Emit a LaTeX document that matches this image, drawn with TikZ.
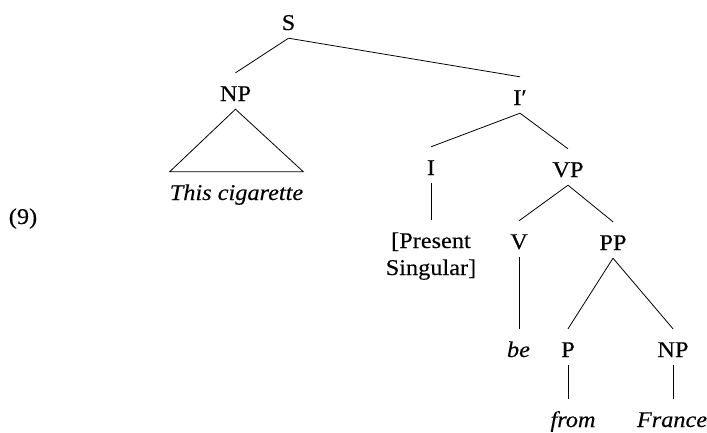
\documentclass[tikz,border=0pt]{standalone}
\usepackage{fontspec}
\setmainfont{Liberation Serif}[FakeStretch=1.08,FakeBold=0.2]
\begin{document}
\begin{tikzpicture}[x=1pt,y=-1pt,
  every node/.style={inner sep=0pt, font=\fontsize{22.5}{27}\selectfont},
  cat/.style={text height=28pt, text depth=8pt, anchor=base},
  leaf/.style={text height=28pt, text depth=6pt, anchor=base,
               font=\fontsize{22.5}{27}\selectfont\itshape},
  plainleaf/.style={text height=28pt, text depth=6pt, anchor=base},
  branch/.style={line width=0.8pt}]
\useasboundingbox (0,0) rectangle (707,432);

% example number
\node[anchor=base] (num) at (23,224) {(9)};

% category labels
\node[cat] (S)   at (288.5,30)  {S};
\node[cat] (NP1) at (235.5,101) {NP};
\node[cat] (Ib)  at (520,105)   {I′};
\node[cat] (I)   at (431,175)   {I};
\node[cat] (VP)  at (568,177)   {VP};
\node[cat] (V)   at (519,249)   {V};
\node[cat] (PP)  at (613,250)   {PP};
\node[cat] (P)   at (568,357)   {P};
\node[cat] (NP2) at (673,357)   {NP};

% terminal strings
\node[leaf] (cig)  at (236.5,200) {This cigarette};
\node[plainleaf] (tense) at (431,248)
  {\begin{tabular}[t]{@{}c@{}}[Present\\Singular]\end{tabular}};
\node[leaf] (be)     at (518.5,357) {be};
\node[leaf] (from)   at (573,427)   {from};
\node[leaf] (France) at (672,427)   {France};

% branches
\draw[branch] (S.south) -- (NP1.north);
\draw[branch] (S.south) -- (Ib.north);
\draw[branch] (NP1.south) -- (cig.north west) -- (cig.north east) -- cycle;
\draw[branch] (Ib.south) -- (I.north);
\draw[branch] (Ib.south) -- (VP.north);
\draw[branch] (I.south) -- (I.south |- tense.north);
\draw[branch] (VP.south) -- (V.north);
\draw[branch] (VP.south) -- (PP.north);
\draw[branch] (V.south) -- (V.south |- be.north);
\draw[branch] (PP.south) -- (P.north);
\draw[branch] (PP.south) -- (NP2.north);
\draw[branch] (P.south) -- (P.south |- from.north);
\draw[branch] (NP2.south) -- (NP2.south |- France.north);
\end{tikzpicture}
\end{document}
